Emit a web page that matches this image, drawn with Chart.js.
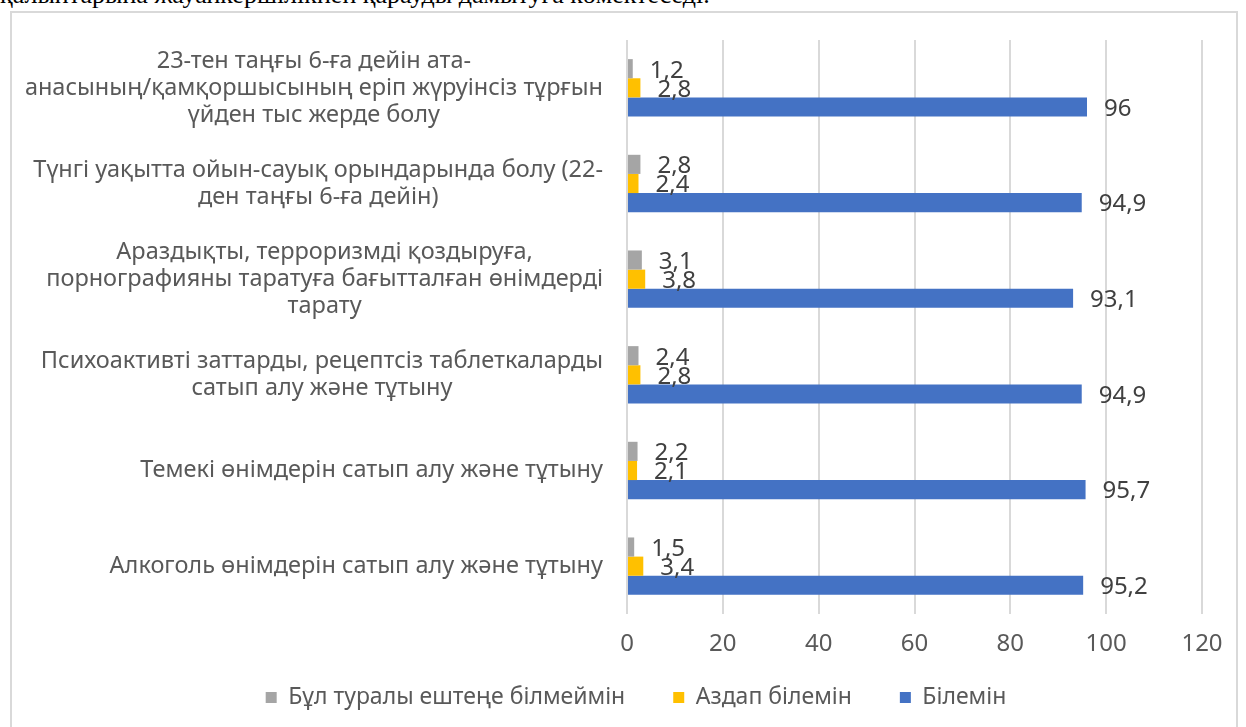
<!DOCTYPE html>
<html>
<head>
<meta charset="utf-8">
<script src="https://cdn.jsdelivr.net/npm/chart.js@4.4.1/dist/chart.umd.min.js"></script>
<style>
    body { margin: 0; background: #fff; }
    #wrap { position: relative; width: 1246px; height: 727px; overflow: hidden; }
    #topText {
        position: absolute; left: 0; top: -20px; white-space: nowrap;
        font-family: "Liberation Serif", serif; font-size: 26px; line-height: 30px; color: #000;
    }
    #frame {
        position: absolute; left: 10px; top: 11px; width: 1228px; height: 730px;
        border: 2px solid #d9d9d9; box-sizing: border-box;
    }
    #grafico { position: absolute; left: 0; top: 0; }
</style>
</head>
<body>
<div id="wrap">
    <div id="topText">қалыптарына жауапкершілікпен қарауды дамытуға көмектеседі.</div>
    <div id="frame"></div>
    <canvas id="grafico" width="1246" height="727"></canvas>
</div>
<script>
// categorias de arriba hacia abajo
const categorias = [
    ["23-тен таңғы 6-ға дейін ата-", "анасының/қамқоршысының еріп жүруінсіз тұрғын", "үйден тыс жерде болу"],
    ["Түнгі уақытта ойын-сауық орындарында болу (22-", "ден таңғы 6-ға дейін)"],
    ["Араздықты, терроризмді қоздыруға,", "порнографияны таратуға бағытталған өнімдерді", "тарату"],
    ["Психоактивті заттарды, рецептсіз таблеткаларды", "сатып алу және тұтыну"],
    ["Темекі өнімдерін сатып алу және тұтыну"],
    ["Алкоголь өнімдерін сатып алу және тұтыну"]
];
const nombresSeries = ["Бұл туралы ештеңе білмеймін", "Аздап білемін", "Білемін"];
const valoresNoSabe = [1.2, 2.8, 3.1, 2.4, 2.2, 1.5];
const valoresPoco = [2.8, 2.4, 3.8, 2.8, 2.1, 3.4];
const valoresSabe = [96, 94.9, 93.1, 94.9, 95.7, 95.2];
const ticksX = [0, 20, 40, 60, 80, 100, 120];

const fuente = '"Noto Sans", sans-serif';
const tamFuente = 24;

// etiquetas de los ejes (categorias centradas entre lineas, bloque alineado a la derecha)
const etiquetasEjes = {
    id: 'etiquetasEjes',
    afterDraw(chart) {
        const ctx = chart.ctx;
        const y = chart.scales.y;
        const x = chart.scales.x;
        ctx.save();
        ctx.font = '23.5px ' + fuente;
        ctx.fillStyle = '#595959';
        ctx.textAlign = 'center';
        ctx.textBaseline = 'middle';
        const derecha = chart.chartArea.left - 24;
        const alto = 27;
        categorias.forEach((lineas, i) => {
            const centro = y.getPixelForTick(i);
            const ancho = Math.max(...lineas.map(l => ctx.measureText(l).width));
            const px = derecha - ancho / 2;
            const inicio = centro - (lineas.length - 1) * alto / 2;
            lineas.forEach((l, j) => ctx.fillText(l, px, inicio + j * alto));
        });
        ctx.font = tamFuente + 'px ' + fuente;
        ticksX.forEach(v => {
            ctx.fillText(String(v), x.getPixelForValue(v), chart.chartArea.bottom + 30);
        });
        ctx.restore();
    }
};

// valores al final de cada barra
const valoresBarras = {
    id: 'valoresBarras',
    afterDatasetsDraw(chart) {
        const ctx = chart.ctx;
        ctx.save();
        ctx.font = tamFuente + 'px ' + fuente;
        ctx.fillStyle = '#404040';
        ctx.textAlign = 'left';
        ctx.textBaseline = 'middle';
        chart.data.datasets.forEach((ds, i) => {
            chart.getDatasetMeta(i).data.forEach((bar, j) => {
                const texto = String(ds.data[j]).replace('.', ',');
                ctx.fillText(texto, bar.x + 17, bar.y + 2);
            });
        });
        ctx.restore();
    }
};

const ctx = document.getElementById('grafico').getContext('2d');
new Chart(ctx, {
    type: 'bar',
    data: {
        labels: categorias,
        datasets: [
            { label: nombresSeries[0], data: valoresNoSabe, backgroundColor: '#A5A5A5' },
            { label: nombresSeries[1], data: valoresPoco, backgroundColor: '#FFC000' },
            { label: nombresSeries[2], data: valoresSabe, backgroundColor: '#4472C4' }
        ]
    },
    options: {
        indexAxis: 'y',
        responsive: false,
        animation: false,
        datasets: {
            bar: { categoryPercentage: 0.6, barPercentage: 1.0 }
        },
        layout: { padding: { top: 40, right: 44, bottom: 8, left: 70 } },
        scales: {
            x: {
                min: 0,
                max: 120,
                afterBuildTicks(scale) { scale.ticks = ticksX.map(v => ({ value: v })); },
                afterFit(scale) { scale.height = 24; },
                grid: { color: '#d9d9d9', lineWidth: 2, drawTicks: false },
                border: { display: false },
                ticks: { display: false }
            },
            y: {
                afterFit(scale) { scale.width = 557; },
                grid: { display: false },
                border: { display: false },
                ticks: { display: false }
            }
        },
        plugins: {
            legend: {
                position: 'bottom',
                labels: {
                    boxWidth: 11,
                    boxHeight: 11,
                    padding: 48,
                    color: '#595959',
                    font: { family: fuente, size: 23 }
                }
            },
            tooltip: { enabled: false }
        }
    },
    plugins: [etiquetasEjes, valoresBarras]
});
</script>
</body>
</html>
